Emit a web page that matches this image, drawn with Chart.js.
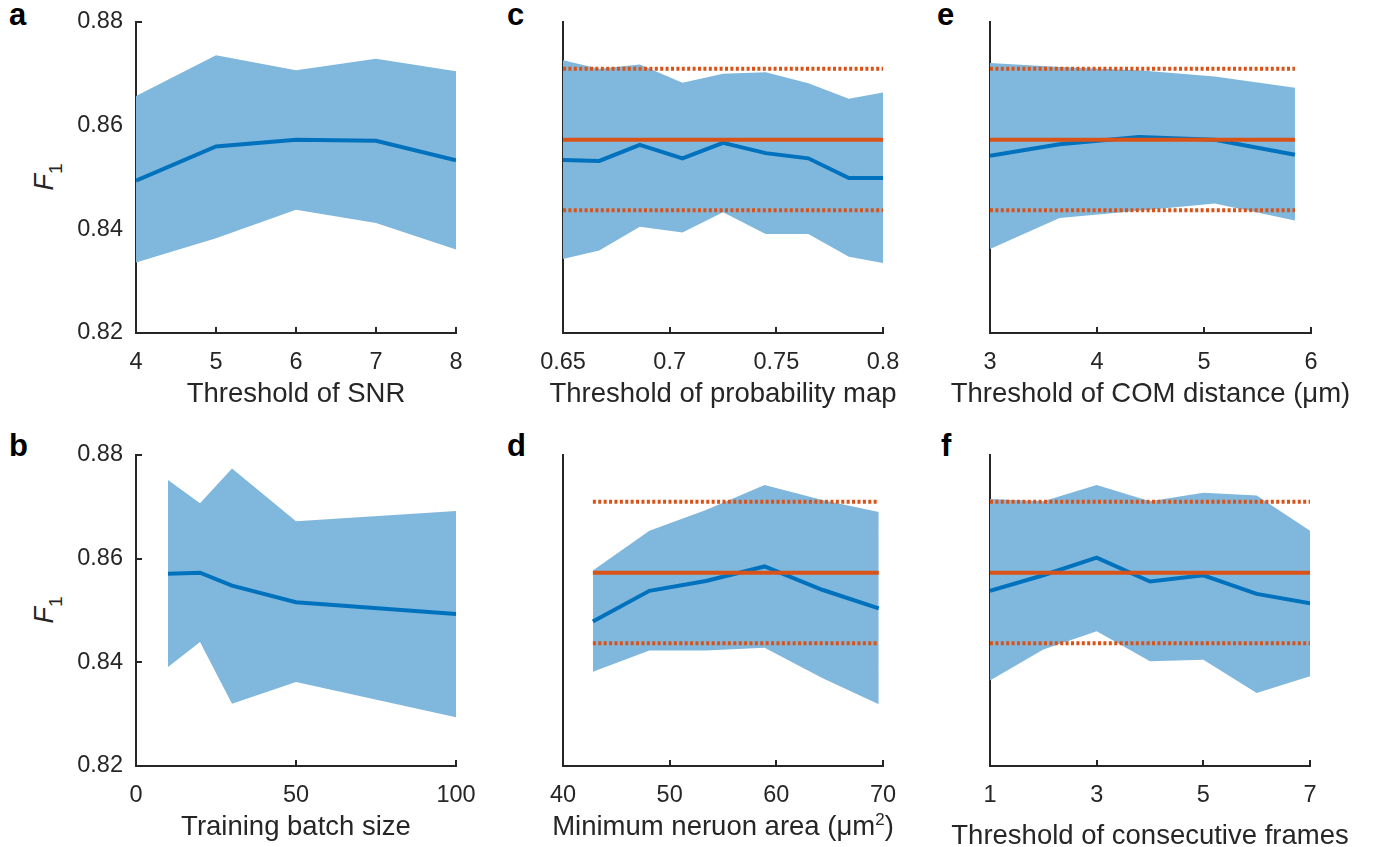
<!DOCTYPE html>
<html>
<head>
<meta charset="utf-8">
<script src="https://cdn.jsdelivr.net/npm/chart.js@4.4.1/dist/chart.umd.min.js"></script>
<style>
body{margin:0;background:#fff;}
#fig{position:relative;width:1373px;height:847px;overflow:hidden;font-family:"Liberation Sans",Arial,sans-serif;}
#fig canvas{position:absolute;}
.letter{position:absolute;font-weight:bold;font-size:31px;line-height:31px;color:#000;}
.f1{position:absolute;font-size:27px;line-height:27px;color:#262626;white-space:nowrap;transform:translate(-50%,-50%) rotate(-90deg);}
.f1 sub{font-size:19px;vertical-align:-9px;}
.xtitle{position:absolute;font-size:27.5px;line-height:27.5px;color:#262626;white-space:nowrap;transform:translate(-50%,-50%);}
.xtitle sup{font-size:17px;vertical-align:10px;line-height:0;}
</style>
</head>
<body>
<div id="fig">
  <div class="letter" style="left:9px;top:-1px">a</div>
  <div class="letter" style="left:507px;top:-1px">c</div>
  <div class="letter" style="left:937px;top:-1px">e</div>
  <div class="letter" style="left:9px;top:430px">b</div>
  <div class="letter" style="left:507px;top:430px">d</div>
  <div class="letter" style="left:941px;top:430px">f</div>
  <div class="f1" style="left:50px;top:177px"><i>F</i><sub>1</sub></div>
  <div class="f1" style="left:50px;top:610px"><i>F</i><sub>1</sub></div>
</div>
<script>
// F1 axis (same in every panel)
const yTicks = [0.82, 0.84, 0.86, 0.88]

// a - threshold of SNR
const snrX = [4, 5, 6, 7, 8]
const snrMean = [0.8494, 0.8560, 0.8573, 0.8571, 0.8533]
const snrUpper = [0.8657, 0.8736, 0.8707, 0.8729, 0.8705]
const snrLower = [0.8336, 0.8383, 0.8438, 0.8412, 0.8361]
const snrTicks = [4, 5, 6, 7, 8]

// b - training batch size
const batchX = [10, 20, 30, 50, 100]
const batchMean = [0.8571, 0.8573, 0.8548, 0.8516, 0.8493]
const batchUpper = [0.8752, 0.8707, 0.8774, 0.8672, 0.8692]
const batchLower = [0.8391, 0.8439, 0.8320, 0.8362, 0.8294]
const batchTicks = [0, 50, 100]

// c - threshold of probability map
const probX = [0.65, 0.667, 0.686, 0.706, 0.725, 0.745, 0.765, 0.784, 0.8]
const probMean = [0.8534, 0.8532, 0.8563, 0.8537, 0.8567, 0.8547, 0.8537, 0.8499, 0.8499]
const probUpper = [0.8726, 0.8710, 0.8718, 0.8683, 0.8700, 0.8703, 0.8682, 0.8652, 0.8664]
const probLower = [0.8343, 0.8359, 0.8405, 0.8394, 0.8433, 0.8391, 0.8391, 0.8347, 0.8335]
const probTicks = [0.65, 0.7, 0.75, 0.8]

// d - minimum neuron area
const areaX = [42.8, 48.1, 53.4, 58.9, 64.3, 69.6]
const areaMean = [0.8479, 0.8538, 0.8557, 0.8585, 0.8540, 0.8504]
const areaUpper = [0.8577, 0.8654, 0.8694, 0.8742, 0.8713, 0.8690]
const areaLower = [0.8382, 0.8423, 0.8423, 0.8428, 0.8370, 0.8319]
const areaTicks = [40, 50, 60, 70]

// e - threshold of COM distance
const comX = [3, 3.65, 4.39, 5.1, 5.85]
const comMean = [0.8542, 0.8564, 0.8578, 0.8573, 0.8544]
const comUpper = [0.8721, 0.8713, 0.8707, 0.8695, 0.8673]
const comLower = [0.8362, 0.8422, 0.8436, 0.8450, 0.8417]
const comTicks = [3, 4, 5, 6]

// f - threshold of consecutive frames
const framesX = [1, 2, 3, 4, 5, 6, 7]
const framesMean = [0.8538, 0.8568, 0.8602, 0.8556, 0.8568, 0.8532, 0.8514]
const framesUpper = [0.8715, 0.8711, 0.8742, 0.8711, 0.8727, 0.8722, 0.8654]
const framesLower = [0.8365, 0.8425, 0.8460, 0.8402, 0.8405, 0.8341, 0.8373]
const framesTicks = [1, 3, 5, 7]

// reference F1 (solid) and its spread (dotted)
const refMean = 0.8573
const refUpper = 0.8710
const refLower = 0.8437

const grey = '#262626'
const blue = '#0072BD'
const band = 'rgb(128,183,221)'
const orange = '#D95319'
const font = 'Liberation Sans'

function pts(xs, ys) {
    return xs.map((x, i) => ({x: x, y: ys[i]}))
}

function panel(box, xMin, xMax, xTicks, xs, mean, upper, lower, withRef, showY, title, titleY) {
    const fig = document.getElementById('fig')
    const cv = document.createElement('canvas')
    cv.width = box.w + 140
    cv.height = box.h + 20 + 45
    cv.style.left = (box.left - 100) + 'px'
    cv.style.top = (box.top - 20) + 'px'
    fig.appendChild(cv)

    // axis title as html text (it is wider than the axis in some panels)
    const t = document.createElement('div')
    t.className = 'xtitle'
    t.innerHTML = title
    t.style.left = (box.left + box.w / 2) + 'px'
    t.style.top = titleY + 'px'
    fig.appendChild(t)

    const datasets = [
        {data: pts(xs, upper), borderWidth: 0, backgroundColor: band, fill: '+1', pointRadius: 0, order: 3},
        {data: pts(xs, lower), borderWidth: 0, backgroundColor: band, fill: false, pointRadius: 0, order: 4},
        {data: pts(xs, mean), borderColor: blue, borderWidth: 4, fill: false, pointRadius: 0, order: 2}
    ]
    if (withRef) {
        const x0 = xs[0], x1 = xs[xs.length - 1]
        datasets.push({data: [{x: x0, y: refMean}, {x: x1, y: refMean}], borderColor: orange, borderWidth: 4, fill: false, pointRadius: 0, order: 0})
        datasets.push({data: [{x: x0, y: refUpper}, {x: x1, y: refUpper}], borderColor: orange, borderWidth: 4, borderDash: [3, 2.4], fill: false, pointRadius: 0, order: 1})
        datasets.push({data: [{x: x0, y: refLower}, {x: x1, y: refLower}], borderColor: orange, borderWidth: 4, borderDash: [3, 2.4], fill: false, pointRadius: 0, order: 1})
    }

    new Chart(cv, {
        type: 'line',
        data: {datasets: datasets},
        options: {
            responsive: false,
            animation: false,
            layout: {padding: {top: 20, left: 0, right: 40, bottom: 0}},
            plugins: {legend: {display: false}, tooltip: {enabled: false}},
            scales: {
                x: {
                    type: 'linear',
                    min: xMin,
                    max: xMax,
                    afterBuildTicks: s => { s.ticks = xTicks.map(v => ({value: v})) },
                    afterFit: s => { s.height = 45; s.paddingLeft = 0; s.paddingRight = 0 },
                    ticks: {
                        autoSkip: false, maxRotation: 0, padding: 21, color: grey,
                        font: {family: font, size: 23.5},
                        callback: v => String(v)
                    },
                    grid: {drawOnChartArea: false, drawTicks: true, tickLength: -6, color: grey, lineWidth: 2},
                    border: {display: true, color: grey, width: 2}
                },
                y: {
                    min: 0.82,
                    max: 0.88,
                    afterBuildTicks: s => { s.ticks = yTicks.map(v => ({value: v})) },
                    afterFit: s => { s.width = 100; s.paddingTop = 0; s.paddingBottom = 0 },
                    ticks: {
                        display: showY, padding: 19, color: grey,
                        font: {family: font, size: 23.5},
                        callback: v => v.toFixed(2)
                    },
                    grid: {drawOnChartArea: false, drawTicks: showY, tickLength: -6, color: grey, lineWidth: 2},
                    border: {display: true, color: grey, width: 2}
                }
            }
        }
    })
}

panel({left: 136, top: 22, w: 320, h: 311}, 4, 8, snrTicks, snrX, snrMean, snrUpper, snrLower, false, true, 'Threshold of SNR', 393)
panel({left: 563, top: 22, w: 320, h: 311}, 0.65, 0.8, probTicks, probX, probMean, probUpper, probLower, true, false, 'Threshold of probability map', 393)
panel({left: 990, top: 22, w: 321, h: 311}, 3, 6, comTicks, comX, comMean, comUpper, comLower, true, false, 'Threshold of COM distance (μm)', 393)
panel({left: 136, top: 455, w: 320, h: 311}, 0, 100, batchTicks, batchX, batchMean, batchUpper, batchLower, false, true, 'Training batch size', 826)
panel({left: 563, top: 455, w: 320, h: 311}, 40, 70, areaTicks, areaX, areaMean, areaUpper, areaLower, true, false, 'Minimum neruon area (μm<sup>2</sup>)', 826)
panel({left: 990, top: 455, w: 320, h: 311}, 1, 7, framesTicks, framesX, framesMean, framesUpper, framesLower, true, false, 'Threshold of consecutive frames', 835)
</script>
</body>
</html>
